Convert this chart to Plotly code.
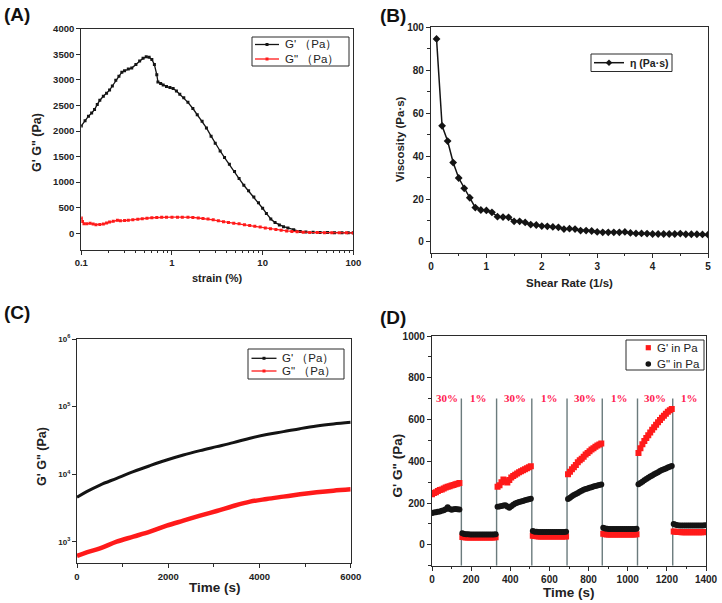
import plotly.graph_objects as go

# ---------------- Panel A: strain sweep ----------------
A_STRAIN_GP = [0.100, 0.110, 0.120, 0.130, 0.140, 0.150, 0.160, 0.175, 0.190, 0.205, 0.220, 0.240,
               0.260, 0.280, 0.300, 0.330, 0.360, 0.400, 0.440, 0.480, 0.520, 0.560, 0.600, 0.640,
               0.680, 0.700, 0.750, 0.800, 0.870, 0.950, 1.03, 1.12, 1.22, 1.35, 1.50, 1.70, 1.90,
               2.15, 2.40, 2.70, 3.00, 3.40, 3.80, 4.30, 4.90, 5.50, 6.20, 7.00, 8.00, 9.00, 10.0,
               11.0, 12.3, 13.7, 15.3, 17.0, 19.0, 22.0, 26.0, 30.0, 36.0, 43.0, 52.0, 62.0, 75.0,
               88.0, 100.0]
A_GP = [2100, 2200, 2290, 2350, 2420, 2520, 2600, 2680, 2740, 2800, 2880, 2990,
        3070, 3150, 3180, 3210, 3230, 3300, 3370, 3420, 3450, 3440, 3400, 3300,
        3100, 2960, 2930, 2900, 2870, 2850, 2830, 2780, 2720, 2650, 2560, 2440, 2320,
        2190, 2060, 1900, 1760, 1610, 1480, 1350, 1210, 1070, 940, 830, 710, 600, 490,
        390, 280, 210, 165, 130, 105, 70, 35, 25, 20, 17, 15, 13, 12,
        11, 10]
A_STRAIN_GPP = [0.100, 0.103, 0.107, 0.115, 0.125, 0.135, 0.145, 0.160, 0.175, 0.190, 0.205, 0.225,
                0.250, 0.270, 0.300, 0.330, 0.370, 0.420, 0.470, 0.530, 0.600, 0.680, 0.770, 0.870,
                1.00, 1.15, 1.30, 1.50, 1.70, 1.95, 2.20, 2.50, 2.85, 3.25, 3.70, 4.20, 4.80, 5.50,
                6.30, 7.20, 8.20, 9.40, 10.7, 12.2, 14.0, 16.0, 18.4, 21.0, 24.0, 28.0, 33.0, 40.0,
                48.0, 58.0, 70.0, 84.0, 100.0]
A_GPP = [300, 230, 185, 185, 195, 180, 170, 175, 180, 200, 220, 235,
         255, 245, 250, 255, 265, 275, 285, 295, 305, 310, 313, 315,
         315, 315, 315, 313, 310, 300, 292, 280, 265, 245, 228, 212, 198, 185,
         168, 152, 138, 122, 105, 90, 75, 60, 47, 38, 30, 22, 18, 15,
         13, 11, 10, 9, 8]

# ---------------- Panel B: viscosity ----------------
B_RATE = [0.1, 0.2, 0.3, 0.4, 0.5, 0.6, 0.7, 0.8, 0.9, 1.0, 1.1, 1.2, 1.3, 1.4, 1.5, 1.6, 1.7,
          1.8, 1.9, 2.0, 2.1, 2.2, 2.3, 2.4, 2.5, 2.6, 2.7, 2.8, 2.9, 3.0, 3.1, 3.2, 3.3, 3.4,
          3.5, 3.6, 3.7, 3.8, 3.9, 4.0, 4.1, 4.2, 4.3, 4.4, 4.5, 4.6, 4.7, 4.8, 4.9, 5.0]
B_VISC = [94.6, 54.1, 47.0, 37.0, 29.8, 25.0, 20.6, 16.0, 14.9, 14.7, 13.8, 11.8, 11.6, 11.5,
          9.6, 9.6, 9.1, 8.1, 7.9, 7.4, 7.3, 7.0, 6.8, 6.0, 6.2, 6.0, 5.3, 5.3, 5.1, 4.7, 4.5,
          4.5, 4.5, 4.5, 4.7, 4.2, 4.0, 4.0, 3.9, 3.7, 3.7, 3.7, 3.7, 3.7, 3.9, 3.6, 3.6, 3.6,
          3.5, 3.4]

# ---------------- Panel C: time sweep ----------------
C_TIME = [0, 212, 504, 870, 1235, 1600, 1966, 2331, 2697, 3062, 3427, 3793, 4158, 4524,
          4889, 5254, 5620, 6000]
C_GP = [4570, 5540, 6950, 8730, 10960, 13430, 16280, 19300, 22380, 25640, 29380, 34200,
        38800, 42740, 47320, 51800, 55450, 58650]
C_GPP = [621, 703, 805, 1011, 1199, 1422, 1742, 2066, 2449, 2872, 3405, 3945, 4320, 4680,
         5060, 5420, 5740, 6000]

# ---------------- Panel D: step strain ----------------
D_TIME = [0, 10, 20, 30, 40, 50, 60, 70, 80, 90, 100, 110, 120, 130, 140,
          155, 165, 175, 185, 195, 205, 215, 225, 235, 245, 255, 265, 275, 285, 295, 305, 315, 325,
          335, 345, 355, 365, 375, 385, 395, 405, 415, 425, 435, 445, 455, 465, 475, 485, 495, 505,
          515, 525, 535, 545, 555, 565, 575, 585, 595, 605, 615, 625, 635, 645, 655, 665, 675, 685,
          695, 705, 715, 725, 735, 745, 755, 765, 775, 785, 795, 805, 815, 825, 835, 845, 855, 865,
          875, 885, 895, 905, 915, 925, 935, 945, 955, 965, 975, 985, 995, 1005, 1015, 1025, 1035, 1045,
          1055, 1065, 1075, 1085, 1095, 1105, 1115, 1125, 1135, 1145, 1155, 1165, 1175, 1185, 1195, 1205, 1215, 1225,
          1235, 1245, 1255, 1265, 1275, 1285, 1295, 1305, 1315, 1325, 1335, 1345, 1355, 1365, 1375, 1385, 1395]
D_GP = [242, 248, 252, 258, 262, 265, 270, 274, 278, 281, 284, 287, 290, 293, 296,
        38, 36, 35, 35, 35, 35, 35, 35, 35, 35, 35, 35, 35, 35, 35, 35, 35, 36,
        278, 285, 300, 313, 305, 298, 310, 322, 330, 336, 342, 347, 352, 357, 362, 367, 371, 376,
        44, 42, 41, 40, 40, 40, 40, 40, 40, 40, 40, 40, 40, 40, 40, 40, 40, 40,
        338, 350, 362, 372, 382, 395, 405, 412, 422, 432, 440, 448, 456, 463, 470, 476, 481, 485,
        53, 51, 50, 50, 50, 50, 50, 50, 50, 50, 50, 50, 50, 50, 50, 50, 50, 51,
        440, 462, 482, 497, 512, 525, 538, 551, 563, 575, 587, 598, 608, 618, 628, 637, 645, 651,
        64, 62, 61, 61, 60, 60, 60, 60, 60, 60, 60, 60, 60, 60, 60, 60, 61]
D_GPP = [152, 155, 156, 158, 160, 163, 165, 170, 180, 172, 168, 170, 172, 170, 169,
         55, 52, 51, 51, 50, 50, 50, 50, 50, 50, 50, 50, 50, 50, 50, 50, 50, 51,
         182, 184, 186, 188, 189, 183, 178, 185, 192, 198, 202, 205, 208, 210, 213, 216, 218, 221,
         66, 63, 62, 61, 61, 61, 61, 61, 61, 61, 61, 61, 61, 61, 61, 61, 61, 62,
         220, 226, 232, 238, 243, 248, 254, 259, 264, 267, 270, 273, 276, 279, 282, 284, 286, 289,
         82, 78, 77, 76, 76, 76, 76, 76, 76, 76, 76, 76, 76, 76, 76, 76, 76, 77,
         290, 296, 302, 309, 315, 321, 327, 332, 338, 343, 348, 353, 358, 362, 366, 370, 374, 377,
         100, 96, 94, 93, 93, 93, 93, 93, 93, 93, 93, 93, 93, 93, 93, 93, 94]
D_SWITCH = [150, 330, 510, 690, 870, 1050, 1230]
D_LABEL_T = [77, 238, 423, 601, 782, 960, 1140, 1318]
D_LABELS = ["30%", "1%", "30%", "1%", "30%", "1%", "30%", "1%"]
D_LABEL_Y = 701

NAME_A = ["G' （Pa）", "G\" （Pa）"]
NAME_B = ["η (Pa·s)"]
NAME_C = ["G' （Pa）", "G\" （Pa）"]
NAME_D = ["G' in Pa", "G\" in Pa"]

SANS = "Arial, Liberation Sans, sans-serif"
BLACK = "#141414"
RED = "#ff1a1a"
AXC = "#2b2b2b"
W, H = 722, 603


def PX(p):
    return p / W


def PY(p):
    return 1 - p / H


fig = go.Figure()

# Panel A
fig.add_trace(go.Scatter(x=A_STRAIN_GP, y=A_GP, mode="lines+markers", name=NAME_A[0],
                         line=dict(color=BLACK, width=1.3), marker=dict(symbol="square", size=3, color=BLACK),
                         xaxis="x", yaxis="y"))
fig.add_trace(go.Scatter(x=A_STRAIN_GPP, y=A_GPP, mode="lines+markers", name=NAME_A[1],
                         line=dict(color=RED, width=1.3), marker=dict(symbol="square", size=3, color=RED),
                         xaxis="x", yaxis="y"))
# Panel B
fig.add_trace(go.Scatter(x=B_RATE, y=B_VISC, mode="lines+markers", name=NAME_B[0],
                         line=dict(color=BLACK, width=1.5), marker=dict(symbol="diamond", size=6, color=BLACK),
                         xaxis="x2", yaxis="y2"))
# Panel C
fig.add_trace(go.Scatter(x=C_TIME, y=C_GP, mode="lines", name=NAME_C[0], line_shape="spline",
                         line=dict(color=BLACK, width=3), xaxis="x3", yaxis="y3"))
fig.add_trace(go.Scatter(x=C_TIME, y=C_GPP, mode="lines", name=NAME_C[1], line_shape="spline",
                         line=dict(color=RED, width=4.5), xaxis="x3", yaxis="y3"))
# Panel D
fig.add_trace(go.Scatter(x=D_TIME, y=D_GP, mode="markers", name=NAME_D[0],
                         marker=dict(symbol="square", size=6, color=RED), xaxis="x4", yaxis="y4"))
fig.add_trace(go.Scatter(x=D_TIME, y=D_GPP, mode="markers", name=NAME_D[1],
                         marker=dict(symbol="circle", size=6, color=BLACK), xaxis="x4", yaxis="y4"))

for t in D_SWITCH:
    fig.add_shape(type="line", xref="x4", yref="y4", x0=t, x1=t, y0=-100, y1=D_LABEL_Y,
                  line=dict(color="#6b7b7d", width=1.4), layer="below")
for t, s in zip(D_LABEL_T, D_LABELS):
    fig.add_annotation(x=t, y=D_LABEL_Y, xref="x4", yref="y4", text="<b>" + s + "</b>", showarrow=False,
                       font=dict(family="Liberation Serif, Times New Roman, serif", size=11, color="#ff2050"))


def axis(domain, anchor, tsize, **kw):
    d = dict(domain=domain, anchor=anchor, showline=True, mirror=True, linecolor=AXC, linewidth=1.3,
             ticks="outside", ticklen=4, tickwidth=1.2, tickcolor=AXC, showgrid=False, zeroline=False,
             automargin=False,
             tickfont=dict(family=SANS, size=tsize, color="#222", weight="bold"))
    d.update(kw)
    return d


LOG_MINOR = [0.2, 0.3, 0.4, 0.5, 0.6, 0.7, 0.8, 0.9, 2, 3, 4, 5, 6, 7, 8, 9, 20, 30, 40, 50, 60, 70, 80, 90]

fig.update_layout(
    width=W, height=H, margin=dict(l=0, r=0, t=0, b=0),
    paper_bgcolor="white", plot_bgcolor="white", showlegend=False,
    xaxis=axis([PX(81.3), PX(353.3)], "y", 9.5, type="log", range=[-1, 2],
               tickvals=[0.1, 1, 10, 100], ticktext=["0.1", "1", "10", "100"],
               minor=dict(tickvals=LOG_MINOR, ticks="outside", ticklen=2.5, tickcolor=AXC)),
    yaxis=axis([PY(249.7), PY(28.7)], "x", 9.5, range=[-320, 4000], dtick=500),
    xaxis2=axis([PX(431), PX(708)], "y2", 10, range=[0, 5], dtick=1,
                minor=dict(dtick=0.5, ticks="outside", ticklen=2.5, tickcolor=AXC)),
    yaxis2=axis([PY(252.7), PY(27.3)], "x2", 10, range=[-5, 100], dtick=20,
                minor=dict(dtick=10, ticks="outside", ticklen=2.5, tickcolor=AXC)),
    xaxis3=axis([PX(77), PX(350.7)], "y3", 9.5, range=[0, 6000], dtick=2000,
                minor=dict(dtick=1000, ticks="outside", ticklen=2.5, tickcolor=AXC)),
    yaxis3=axis([PY(563.3), PY(339)], "x3", 8, type="log", range=[2.685, 6],
                tickvals=[1e3, 1e4, 1e5, 1e6],
                ticktext=["10<sup>3</sup>", "10<sup>4</sup>", "10<sup>5</sup>", "10<sup>6</sup>"]),
    xaxis4=axis([PX(432), PX(706)], "y4", 10, range=[0, 1400], dtick=200,
                minor=dict(dtick=100, ticks="outside", ticklen=2.5, tickcolor=AXC)),
    yaxis4=axis([PY(565.7), PY(336)], "x4", 10, range=[-100, 1000], dtick=200,
                minor=dict(dtick=100, ticks="outside", ticklen=2.5, tickcolor=AXC)),
)


def text(px, py, s, size, bold=True, angle=0, xanchor="center", family=SANS, color="#222"):
    fig.add_annotation(x=PX(px), y=PY(py), xref="paper", yref="paper", xanchor=xanchor, yanchor="middle",
                       text=("<b>" + s + "</b>") if bold else s, showarrow=False, textangle=angle,
                       font=dict(family=family, size=size, color=color))


# axis titles
text(217, 278, "strain (%)", 11)
text(37, 143, "G' G\" (Pa)", 12.5, angle=-90)
text(569.7, 283, "Shear Rate (1/s)", 11.5)
text(400, 139, "Viscosity (Pa·s)", 11.5, angle=-90)
text(214.7, 587, "Time (s)", 13.5)
text(42, 457, "G' G\" (Pa)", 12.5, angle=-90)
text(569, 592, "Time (s)", 13.5)
text(397.7, 465.7, "G' G\" (Pa)", 13.5, angle=-90)

# panel labels
for s, px, py in [("(A)", 2, 15), ("(B)", 378, 16), ("(C)", 2, 312), ("(D)", 378, 317)]:
    text(px, py, s, 19, xanchor="left", color="#111")


# ---- legends drawn as boxes, glyphs and texts ----
def box(x0, y0, x1, y1):
    fig.add_shape(type="rect", xref="paper", yref="paper", x0=PX(x0), x1=PX(x1), y0=PY(y1), y1=PY(y0),
                  line=dict(color=AXC, width=1), fillcolor="white", layer="above")


def seg(x0, x1, y, color, width):
    fig.add_shape(type="line", xref="paper", yref="paper", x0=PX(x0), x1=PX(x1), y0=PY(y), y1=PY(y),
                  line=dict(color=color, width=width), layer="above")


def mark(cx, cy, r, color, kind):
    if kind == "circle":
        fig.add_shape(type="circle", xref="paper", yref="paper", x0=PX(cx - r), x1=PX(cx + r),
                      y0=PY(cy + r), y1=PY(cy - r), line=dict(width=0), fillcolor=color, layer="above")
    elif kind == "square":
        fig.add_shape(type="rect", xref="paper", yref="paper", x0=PX(cx - r), x1=PX(cx + r),
                      y0=PY(cy + r), y1=PY(cy - r), line=dict(width=0), fillcolor=color, layer="above")
    else:
        path = "M %f %f L %f %f L %f %f L %f %f Z" % (PX(cx - r), PY(cy), PX(cx), PY(cy - r),
                                                    PX(cx + r), PY(cy), PX(cx), PY(cy + r))
        fig.add_shape(type="path", xref="paper", yref="paper", path=path, line=dict(width=0),
                      fillcolor=color, layer="above")


# Legend A
box(252, 37, 349, 66)
for i, (c, yy) in enumerate([(BLACK, 44.5), (RED, 59)]):
    seg(255, 279, yy, c, 1.3)
    mark(267, yy, 1.5, c, "square")
    text(282.5, yy, NAME_A[i], 11.5, bold=False, xanchor="left")

# Legend B
box(591, 54, 672, 71.5)
seg(594, 624, 62.7, BLACK, 1.5)
mark(609, 62.7, 3.3, BLACK, "diamond")
text(628, 62.7, NAME_B[0], 10.5, xanchor="left")

# Legend C
box(248, 349, 344, 379)
for i, (c, w, yy) in enumerate([(BLACK, 1.3, 358.3), (RED, 1.3, 371)]):
    seg(251.5, 276.5, yy, c, w)
    mark(264, yy, 1.5, c, "square")
    text(280, yy, NAME_C[i], 11.5, bold=False, xanchor="left")

# Legend D
box(626, 340, 704, 370)
mark(648.3, 347.7, 2.6, RED, "square")
text(654.5, 347.7, NAME_D[0], 11.5, bold=False, xanchor="left")
mark(648.3, 364, 2.8, BLACK, "circle")
text(654.5, 364, NAME_D[1], 11.5, bold=False, xanchor="left")

fig.write_html("out.html", config={"displayModeBar": False},
               post_script="document.body.style.margin='0';document.body.style.overflow='hidden';")
